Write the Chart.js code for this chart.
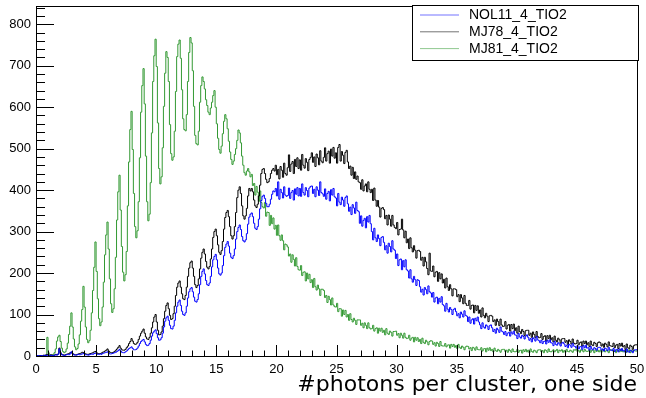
<!DOCTYPE html>
<html>
<head>
<meta charset="utf-8">
<script src="https://cdn.jsdelivr.net/npm/chart.js@4"></script>
<style>
  body { margin: 0; background: #fff; }
  canvas { display: block; }
</style>
</head>
<body>
<canvas id="hist" width="646" height="398"></canvas>
<script>
// histogram contents, 500 bins of width 0.1 from 0 to 50
const binWidth = 0.1;
const xMin = 0;
const xMax = 50;
const seriesNames = ["NOL11_4_TIO2", "MJ78_4_TIO2", "MJ81_4_TIO2"];

const nol11 = [
  0,0,1,0,0,1,0,0,2,1, 2,1,0,2,1,1,2,3,2,4, 17,7,3,2,1,2,3,4,3,5, 10,5,3,2,2,3,4,3,4,5,
  6,4,3,3,2,3,4,5,4,6, 7,5,4,4,5,4,6,7,8,9, 10,7,5,5,6,7,8,9,11,13, 16,12,9,8,8,10,12,15,18,20,
  22,18,15,15,16,19,24,30,35,38, 40,34,28,25,26,30,38,48,56,60,
  63,54,44,38,39,44,55,70,84,92, 96,86,74,66,65,72,86,104,120,130,
  135,122,108,100,98,104,120,140,155,162, 165,155,142,132,130,136,150,172,192,204,
  210,198,182,172,170,176,192,215,232,240, 245,232,212,198,195,200,218,242,262,270,
  276,265,248,238,235,242,258,282,300,310, 316,305,288,278,275,280,295,318,335,342,
  345,336,320,308,305,312,330,355,375,385, 388,380,368,360,360,366,378,390,398,396,
  404,386,420,378,402,394,381,408,388,385, 387,405,380,394,399,376,403,390,406,386,
  404,385,415,394,388,406,399,384,405,409, 410,392,402,384,408,400,387,420,394,391,
  385,403,378,392,397,374,401,388,404,384, 381,362,392,371,365,383,376,361,382,386,
  367,349,359,341,365,357,344,371,351,348, 320,338,313,327,332,309,336,323,339,319,
  300,280,308,285,276,292,283,266,286,288, 274,256,266,248,272,264,251,278,258,255,
  235,246,218,232,234,208,230,215,232,208, 205,188,208,186,178,192,184,170,184,182,
  167,154,161,147,165,160,150,169,155,152, 142,153,130,140,142,126,139,130,143,124,
  121,108,127,113,106,117,112,100,112,115, 107,97,102,92,106,101,94,109,98,96,
  83,94,79,87,90,77,91,85,94,82, 75,66,80,70,67,75,72,64,73,75,
  68,59,64,55,67,63,57,70,60,58, 52,59,49,55,57,48,58,53,60,51,
  50,42,54,46,43,50,47,41,48,51, 45,38,42,34,44,41,36,47,39,37,
  32,38,30,35,36,29,38,33,39,32, 31,25,35,28,26,32,29,24,31,33,
  29,23,26,20,28,26,21,30,24,23, 19,25,17,22,23,16,25,20,26,19,
  20,14,23,17,15,20,18,14,20,21, 20,14,17,12,19,17,13,21,15,14,
  13,18,11,15,16,10,17,13,18,12, 14,8,17,11,9,14,12,8,14,15
];

const mj78 = [
  0,0,0,0,1,0,0,2,1,3, 4,2,1,3,2,1,2,4,3,5, 19,8,4,3,2,3,4,5,6,8, 9,6,4,3,3,4,5,6,7,9,
  8,6,5,4,4,5,6,7,8,10, 11,8,6,5,6,7,9,10,12,14, 17,12,9,8,8,9,11,14,17,21, 25,19,15,14,14,16,20,24,30,35,
  42,36,30,28,29,33,40,48,55,60, 65,55,46,41,40,45,55,68,82,94,
  100,82,62,51,52,58,72,90,108,122, 128,114,98,88,90,102,120,146,166,176,
  181,166,150,138,136,146,166,192,212,225, 229,212,192,172,165,170,186,210,236,250,
  258,246,228,214,210,216,234,258,286,300, 306,290,268,250,245,254,276,306,334,346,
  351,336,312,290,282,290,312,346,382,400, 408,392,362,338,330,338,356,386,404,398,
  404,396,376,362,358,366,386,412,440,450, 452,440,426,418,420,428,440,448,452,446,
  460,437,450,427,457,448,431,465,440,436, 454,485,445,463,469,440,474,457,478,452,
  473,448,486,460,453,476,467,447,474,479, 490,467,480,457,487,478,461,495,470,466,
  479,502,470,488,494,465,499,482,503,477, 490,465,503,510,470,493,484,464,491,496,
  468,452,458,436,455,428,444,426,434,420, 418,402,425,398,410,415,396,420,402,394,
  402,375,405,376,361,375,359,335,356,358, 353,331,339,316,340,330,313,339,316,310,
  307,322,292,305,306,330,304,285,301,273, 282,259,285,261,251,266,255,236,254,255,
  252,231,238,217,238,227,211,196,248,205, 204,217,191,202,204,180,201,186,198,176,
  185,164,188,167,158,172,162,145,162,162, 160,143,148,131,148,140,126,146,127,122,
  122,134,113,122,123,104,122,110,121,103, 111,94,116,98,92,103,96,83,97,98,
  96,83,87,74,89,83,73,89,75,71, 72,83,65,74,76,60,76,66,77,61,
  68,55,72,59,54,64,59,49,61,62, 62,50,55,45,58,52,44,59,47,44,
  45,54,40,47,49,36,49,42,50,39, 44,34,48,38,34,43,39,31,41,42,
  42,33,37,28,39,35,29,41,31,29, 30,38,27,32,34,24,36,30,36,27,
  32,23,36,27,25,33,30,23,32,34, 32,24,29,21,31,28,22,34,25,24,
  23,31,20,26,28,18,30,24,31,22, 25,16,29,20,18,26,23,16,25,27
];

const mj81 = [
  0,0,0,0,0,0,0,0,1,2, 45,8,3,2,2,4,8,17,36,46, 50,35,19,11,8,10,17,31,52,72,
  104,70,41,22,15,18,29,51,84,112, 168,118,70,40,32,37,62,104,158,214,
  275,204,138,90,73,82,118,178,244,292, 323,258,186,126,105,114,162,238,328,396,
  436,352,264,202,181,196,252,362,468,546, 590,498,392,312,285,302,372,478,588,652,
  693,608,482,372,326,342,418,538,662,724, 764,698,562,452,415,432,502,602,682,734,
  720,662,558,488,472,480,542,638,722,752, 762,718,642,572,546,543,582,662,732,768,
  755,688,602,532,512,509,542,612,652,673, 662,644,618,604,588,582,598,612,628,640,
  600,560,525,498,489,506,536,566,582,572, 548,518,492,474,462,470,486,500,520,545,
  538,514,482,460,442,436,446,452,444,432, 438,411,416,388,409,395,373,398,370,360,
  357,370,337,347,346,315,339,319,333,306, 315,291,316,290,279,292,278,256,270,268,
  263,241,246,226,244,233,217,237,216,208, 207,218,194,202,203,181,200,186,197,177,
  184,165,187,167,159,171,162,146,161,161, 158,141,146,129,144,136,123,140,123,119,
  118,127,107,114,114,96,111,100,110,94, 100,86,102,88,82,91,86,76,87,87,
  87,74,79,68,80,74,66,80,68,65, 66,74,60,66,68,55,67,60,67,57,
  62,51,66,55,52,60,57,48,59,59, 60,50,54,44,55,50,43,55,45,42,
  43,50,38,43,45,34,45,38,44,35, 40,30,43,33,30,38,34,27,35,37,
  36,28,32,24,33,30,23,35,25,24, 24,30,22,26,27,19,28,23,28,21,
  25,18,28,21,18,24,21,15,22,24, 23,17,20,13,21,19,14,22,16,15,
  15,20,12,17,18,10,19,14,20,13, 16,10,19,13,11,16,13,9,15,16,
  16,11,14,9,16,13,9,17,11,10, 11,16,9,13,14,7,15,11,16,10,
  14,8,17,11,9,14,12,8,14,15, 15,10,13,8,15,13,9,17,11,10,
  12,15,10,13,16,8,14,12,15,9, 13,9,16,11,10,14,12,9,15,14,
  16,11,13,9,15,13,10,16,12,11, 12,15,9,14,13,8,15,11,14,10,
  14,9,16,12,10,13,12,8,14,15, 15,11,12,8,14,13,10,16,11,10,
  11,14,9,13,15,8,14,11,13,12
];

const seriesColors = ["#0000ff", "#000000", "#339933"];
const yMax = 844;

// each bin becomes a point at its low edge, drawn as a step; close the last bin at xMax
function toBins(values) {
  const pts = values.map((v, i) => ({ x: xMin + i * binWidth, y: v }));
  pts.push({ x: xMax, y: values[values.length - 1] });
  return pts;
}

// ROOT style frame with inward tick marks
const frameTicks = {
  id: "frameTicks",
  afterDatasetsDraw(chart) {
    const { ctx, chartArea: a, scales } = chart;
    const x = scales.x, y = scales.y;
    ctx.save();
    ctx.strokeStyle = "#000";
    ctx.lineWidth = 1;
    ctx.beginPath();
    for (let v = xMin; v <= xMax; v += 1) {
      const px = Math.round(x.getPixelForValue(v)) + 0.5;
      const len = v % 5 === 0 ? 11 : 5.5;
      ctx.moveTo(px, a.bottom);
      ctx.lineTo(px, a.bottom - len);
    }
    for (let v = 0; v <= yMax; v += 20) {
      const py = Math.round(y.getPixelForValue(v)) + 0.5;
      const len = v % 100 === 0 ? 18 : 9;
      ctx.moveTo(a.left, py);
      ctx.lineTo(a.left + len, py);
    }
    ctx.stroke();
    ctx.strokeRect(Math.round(a.left) + 0.5, Math.round(a.top) + 0.5,
      Math.round(a.right - a.left), Math.round(a.bottom - a.top));
    ctx.restore();
  }
};

// legend box in the top right corner
const boxLegend = {
  id: "boxLegend",
  afterDraw(chart) {
    const ctx = chart.ctx;
    ctx.save();
    ctx.fillStyle = "#fff";
    ctx.fillRect(412.5, 5.5, 226, 55);
    ctx.strokeStyle = "#000";
    ctx.lineWidth = 1;
    ctx.strokeRect(412.5, 5.5, 226, 55);
    ctx.font = "14px 'Liberation Sans', Arial, sans-serif";
    ctx.textBaseline = "middle";
    chart.data.datasets.forEach((ds, i) => {
      const ly = 15 + i * 16.8;
      ctx.strokeStyle = ds.borderColor;
      ctx.globalAlpha = 0.55;
      ctx.beginPath();
      ctx.moveTo(420, ly);
      ctx.lineTo(459, ly);
      ctx.stroke();
      ctx.globalAlpha = 1;
      ctx.fillStyle = "#000";
      ctx.fillText(ds.label, 469, ly + 0.5);
    });
    ctx.restore();
  }
};

const tickFont = { family: "'Liberation Sans', Arial, sans-serif", size: 13 };

new Chart(document.getElementById("hist"), {
  type: "line",
  data: {
    datasets: [nol11, mj78, mj81].map((vals, i) => ({
      label: seriesNames[i],
      data: toBins(vals),
      borderColor: seriesColors[i],
      borderWidth: 1,
      stepped: "after",
      pointRadius: 0,
      fill: false
    }))
  },
  options: {
    responsive: false,
    animation: false,
    parsing: false,
    layout: { padding: { top: 6, right: 9, left: 0, bottom: 0 } },
    plugins: { legend: { display: false }, tooltip: { enabled: false } },
    scales: {
      x: {
        type: "linear",
        min: xMin,
        max: xMax,
        grid: { display: false, drawTicks: false },
        border: { display: false },
        ticks: { stepSize: 5, padding: 6, color: "#000", font: tickFont, maxRotation: 0, includeBounds: false },
        title: {
          display: true,
          text: "#photons per cluster, one side",
          align: "end",
          color: "#000",
          font: { family: "'DejaVu Sans', sans-serif", size: 22 },
          padding: { top: 0, bottom: 0 }
        },
        afterFit(scale) {
          scale.height = 42;
          scale.paddingLeft = 0;
          scale.paddingRight = 0;
        }
      },
      y: {
        min: 0,
        max: yMax,
        grid: { display: false, drawTicks: false },
        border: { display: false },
        ticks: { stepSize: 100, padding: 5, color: "#000", font: tickFont, includeBounds: false },
        afterFit(scale) {
          scale.width = 36;
          scale.paddingTop = 0;
          scale.paddingBottom = 0;
        }
      }
    }
  },
  plugins: [frameTicks, boxLegend]
});
</script>
</body>
</html>
